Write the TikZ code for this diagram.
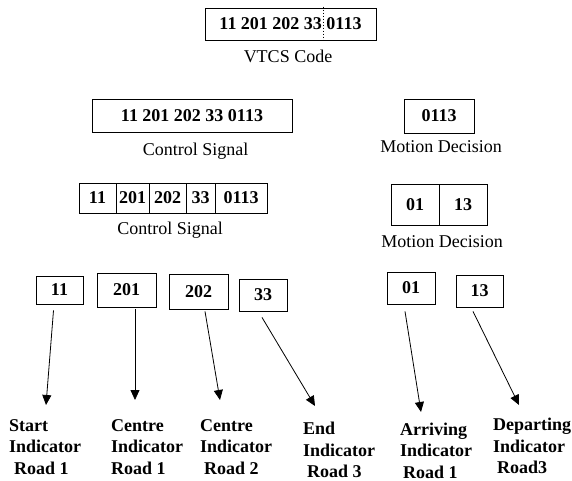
\documentclass[tikz,border=0pt]{standalone}
\usepackage{fontspec}
\setmainfont{Liberation Serif}
\usetikzlibrary{arrows.meta,calc}
\newcommand{\bigfont}{\fontsize{18}{21.5}\selectfont}
\tikzset{
  codebox/.style={draw,line width=0.8pt,inner sep=0pt,font=\bigfont\bfseries},
  capt/.style={inner sep=0pt,anchor=base,font=\bigfont},
  lbl/.style={inner sep=0pt,anchor=north west,align=left,font=\bigfont\bfseries},
  arr/.style={-{Triangle[length=10pt,width=9pt]},line width=0.8pt}
}
\begin{document}
\begin{tikzpicture}[x=1pt,y=-1pt]
  \useasboundingbox (0,0) rectangle (572,481);
  % full code
  \node[codebox,minimum width=171,minimum height=32] (vtcs) at (290.5,24) {11 201 202 33\hspace{0.25em}0113};
  \draw[dotted,line width=1pt] ($(vtcs.north)+(32.5,-1)$) -- ($(vtcs.south)+(32.5,2)$);
  \node[capt] (vtcscap) at (288,63) {VTCS Code};
  % split into control signal and motion decision
  \node[codebox,minimum width=200,minimum height=33] (ctrl) at (192,115.5) {11 201 202 33 0113};
  \node[capt] (ctrlcap) at (195.5,156) {Control Signal};
  \node[codebox,minimum width=70,minimum height=34] (motion) at (439,116) {0113};
  \node[capt] (motioncap) at (441,153) {Motion Decision};
  \foreach \n/\cx/\w/\t in {c1/97.5/37/11,c2/132.5/33/201,c3/167.5/37/202,c4/200.5/29/33,c5/241/52/0113}
    \node[codebox,minimum width=\w,minimum height=30] (\n) at (\cx,198) {\t};
  \node[capt] (ctrlcapb) at (170,234) {Control Signal};
  \node[codebox,minimum width=48,minimum height=41] (m1) at (415,204.5) {01};
  \node[codebox,minimum width=48,minimum height=41] (m2) at (463,204.5) {13};
  \node[capt] (motioncapb) at (442,247) {Motion Decision};
  % single fields
  \node[codebox,minimum width=47,minimum height=28] (b11) at (59.5,290) {11};
  \node[codebox,minimum width=59,minimum height=34] (b201) at (126.5,290) {201};
  \node[codebox,minimum width=59,minimum height=35] (b202) at (198.5,291.5) {202};
  \node[codebox,minimum width=48,minimum height=32] (b33) at (263,295) {33};
  \node[codebox,minimum width=48,minimum height=32] (b01) at (411,288) {01};
  \node[codebox,minimum width=47,minimum height=32] (b13) at (479.5,291) {13};
  % meanings
  \node[lbl] (l11) at (9,419) {Start\\Indicator\\\hspace*{5pt}Road 1};
  \node[lbl] (l201) at (111,419) {Centre\\Indicator\\Road 1};
  \node[lbl] (l202) at (200,419) {Centre\\Indicator\\\hspace*{4pt}Road 2};
  \node[lbl] (l33) at (303,422) {End\\Indicator\\\hspace*{4pt}Road 3};
  \node[lbl] (l01) at (400,422.5) {Arriving\\Indicator\\\hspace*{3pt}Road 1};
  \node[lbl] (l13) at (493,418) {Departing\\Indicator\\\hspace*{4pt}Road3};
  \coordinate (t11) at (46,405);
  \coordinate (t201) at (135,400);
  \coordinate (t202) at (220,400);
  \coordinate (t33) at (315,406);
  \coordinate (t01) at (421,412);
  \coordinate (t13) at (519,405);
  \draw[arr] ($(b11.south)+(-6,6)$) -- (t11);
  \draw[arr] ($(b201.south)+(8.5,2)$) -- (t201);
  \draw[arr] ($(b202.south)+(6.5,2)$) -- (t202);
  \draw[arr] ($(b33.south)+(-1,6)$) -- (t33);
  \draw[arr] ($(b01.south)+(-6,7)$) -- (t01);
  \draw[arr] ($(b13.south)+(-6.5,4)$) -- (t13);
\end{tikzpicture}
\end{document}
